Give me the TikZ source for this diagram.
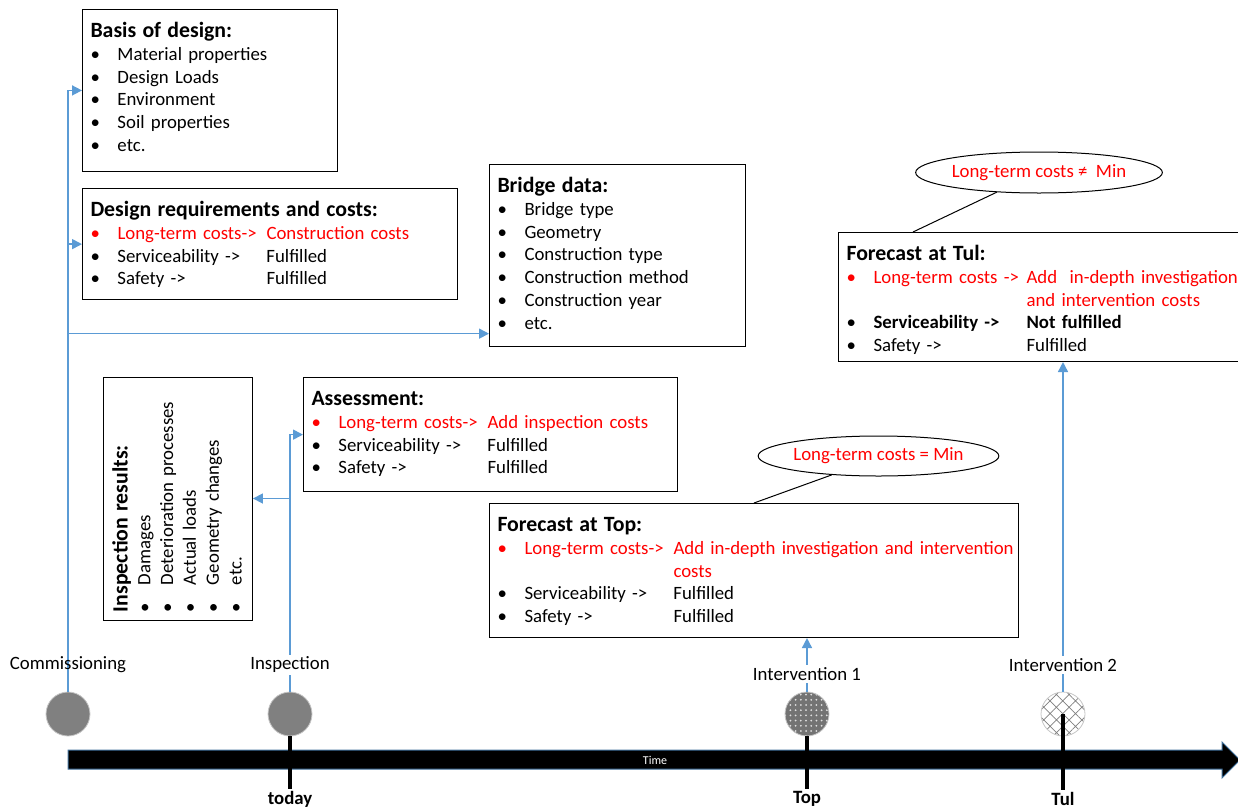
\documentclass[tikz,border=0pt]{standalone}
\usepackage{fontspec}
\setmainfont{Carlito}
\usepackage{array}
\usetikzlibrary{arrows.meta, shapes.geometric, patterns.meta}

\definecolor{connblue}{HTML}{5B9BD5}
\definecolor{axisblue}{HTML}{41719C}
\definecolor{eventgray}{HTML}{808080}

\newcommand{\bodyfont}{\fontsize{9.4}{11.4}\selectfont}
\newcommand{\hd}[1]{{\fontsize{10.9}{13}\selectfont\bfseries #1}}
\newcommand{\rbul}{\textcolor{red}{\textbullet}}

\begin{document}
\begin{tikzpicture}[x=0.5pt, y=-0.5pt, font=\bodyfont,
  infobox/.style={draw, line width=0.5pt, anchor=north west, inner xsep=4pt, inner ysep=4pt, align=left},
  conn/.style={draw=connblue, line width=0.8pt, -{Triangle[length=5pt, width=5pt]}},
  event/.style={circle, minimum size=22pt, inner sep=0pt, draw=gray!45, line width=0.4pt},
  tick/.style={line width=1.6pt},
  costcloud/.style={ellipse, draw, line width=0.5pt, inner sep=0pt, text=red}]

\useasboundingbox (0,0) rectangle (1238,809);

% Basis of design
\node[infobox, text width=119.5pt] (basis) at (82,9) {
\begin{tabular}{@{}p{13.5pt}@{}l@{}}
    \multicolumn{2}{@{}l@{}}{\hd{Basis of design:}\rule{0pt}{10pt}} \\
    \textbullet & Material properties \\
    \textbullet & Design Loads \\
    \textbullet & Environment \\
    \textbullet & Soil properties \\
    \textbullet & etc. \\[2.5pt]
\end{tabular}
};

% Design requirements
\node[infobox, text width=179.5pt] (design) at (82,188) {
\begin{tabular}{@{}p{13.5pt}@{}p{74.5pt}@{}l@{}}
    \multicolumn{3}{@{}l@{}}{\hd{Design requirements and costs:}\rule{0pt}{10pt}} \\
    \rbul & \textcolor{red}{Long-term costs->} & \textcolor{red}{Construction costs} \\
    \textbullet & Serviceability -> & Fulfilled \\
    \textbullet & Safety -> & Fulfilled \\
\end{tabular}
};

% Bridge data
\node[infobox, text width=120pt] (bridge) at (489,164) {
\begin{tabular}{@{}p{13.5pt}@{}l@{}}
    \multicolumn{2}{@{}l@{}}{\hd{Bridge data:}\rule{0pt}{10pt}} \\
    \textbullet & Bridge type \\
    \textbullet & Geometry \\
    \textbullet & Construction type \\
    \textbullet & Construction method \\
    \textbullet & Construction year \\
    \textbullet & etc. \\[1pt]
\end{tabular}
};

% Forecast at Tul
\node[infobox, text width=202pt] (fctul) at (838,232) {
\begin{tabular}{@{}p{13.5pt}@{}p{76.5pt}@{}l@{}}
    \multicolumn{3}{@{}l@{}}{\hd{Forecast at Tul:}\rule{0pt}{10pt}} \\
    \rbul & \textcolor{red}{Long-term costs ->} & \textcolor{red}{Add~ in-depth investigation} \\
     & & \textcolor{red}{and intervention costs} \\
    \textbullet & \textbf{Serviceability ->} & \textbf{Not fulfilled} \\
    \textbullet & Safety -> & Fulfilled \\[-2.5pt]
\end{tabular}
};
\node[costcloud, minimum width=112pt, minimum height=20.5pt] (tulell) at (1039,172.5) {Long-term costs ≠~ Min};

% Inspection results (turned)
\node[draw, line width=0.5pt, rotate=90, inner xsep=4pt, inner ysep=2pt, align=left, text width=113.5pt, minimum height=74pt] (results) at (178,498.5) {
\begin{tabular}{@{}p{13.5pt}@{}l@{}}
    \multicolumn{2}{@{}l@{}}{\hd{Inspection results:}\rule{0pt}{10pt}} \\
    \textbullet & Damages \\
    \textbullet & Deterioration processes \\
    \textbullet & Actual loads \\
    \textbullet & Geometry changes \\
    \textbullet & etc. \\
\end{tabular}
};

% Assessment
\node[infobox, text width=179pt] (assess) at (303,377) {
\begin{tabular}{@{}p{13.5pt}@{}p{74.5pt}@{}l@{}}
    \multicolumn{3}{@{}l@{}}{\hd{Assessment:}\rule{0pt}{10pt}} \\
    \rbul & \textcolor{red}{Long-term costs->} & \textcolor{red}{Add inspection costs} \\
    \textbullet & Serviceability -> & Fulfilled \\
    \textbullet & Safety -> & Fulfilled \\[1.5pt]
\end{tabular}
};

% Forecast at Top
\node[infobox, text width=256.5pt] (fctop) at (489,503) {
\begin{tabular}{@{}p{13.5pt}@{}p{74.5pt}@{}l@{}}
    \multicolumn{3}{@{}l@{}}{\hd{Forecast at Top:}\rule{0pt}{10pt}} \\
    \rbul & \textcolor{red}{Long-term costs->} & \textcolor{red}{Add in-depth investigation and intervention} \\
     & & \textcolor{red}{costs} \\
    \textbullet & Serviceability -> & Fulfilled \\
    \textbullet & Safety -> & Fulfilled \\
\end{tabular}
};
\node[costcloud, minimum width=112pt, minimum height=20pt] (topell) at (878.5,456) {Long-term costs = Min};

% Callout lines
\draw[line width=0.5pt] (tulell.205) -- ([xshift=37.5pt]fctul.north west);
\draw[line width=0.5pt] (topell.202) -- (fctop.north);

% Time axis
\draw[fill=black, draw=axisblue, line width=0.5pt] (68,750) -- (1222,750) -- (1222,742) -- (1240,760)
    -- (1222,778) -- (1222,769) -- (68,769) -- cycle;
\node[text=white, font=\fontsize{6}{7}\selectfont] (time) at (655,760) {Time};

% Time marks
\node[font=\bodyfont\bfseries, inner sep=1pt] (today) at (290,799) {today};
\node[font=\bodyfont\bfseries, inner sep=1pt] (top) at (807,799) {Top};
\node[font=\bodyfont\bfseries, inner sep=1pt] (tul) at (1063,799) {Tul};

% Events
\node[event, fill=eventgray] (comm) at (68,714) {};
\node[event, fill=eventgray] (insp) at (290,714) {};
\node[event, preaction={fill=gray!90!black}, pattern={Dots[distance=2.6pt, radius=0.5pt]}, pattern color=white!75!gray] (int1) at (807,714) {};
\node[event, preaction={fill=white}, pattern={Hatch[angle=45, distance=4.5pt, line width=0.35pt]}, pattern color=gray] (int2) at (1063,714) {};

\draw[tick] (insp.south) -- (today.north);
\draw[tick] (int1.south) -- (top.north);
\draw[tick] (int2.center) -- (tul.north);

% Arrows
\draw[conn] (comm.north) |- (basis.west);
\draw[conn] (comm.north) |- (design.west);
\draw[conn] (comm.north) |- ([yshift=6.5pt]bridge.south west);
\draw[conn] (insp.north) |- (assess.west);
\draw[conn] (insp.north) |- (results.south);
\draw[conn] (int1.north) -- (int1.north |- fctop.south);
\draw[conn] (int2.north) -- (int2.north |- fctul.south);

% Event labels
\node (commlbl) at (68,665) {Commissioning};
\node[fill=white, inner sep=1pt] (insplbl) at (290,665) {Inspection};
\node[fill=white, inner sep=1pt] (int1lbl) at (807,674) {Intervention 1};
\node[fill=white, inner sep=1pt] (int2lbl) at (1063,665) {Intervention 2};

\end{tikzpicture}
\end{document}
